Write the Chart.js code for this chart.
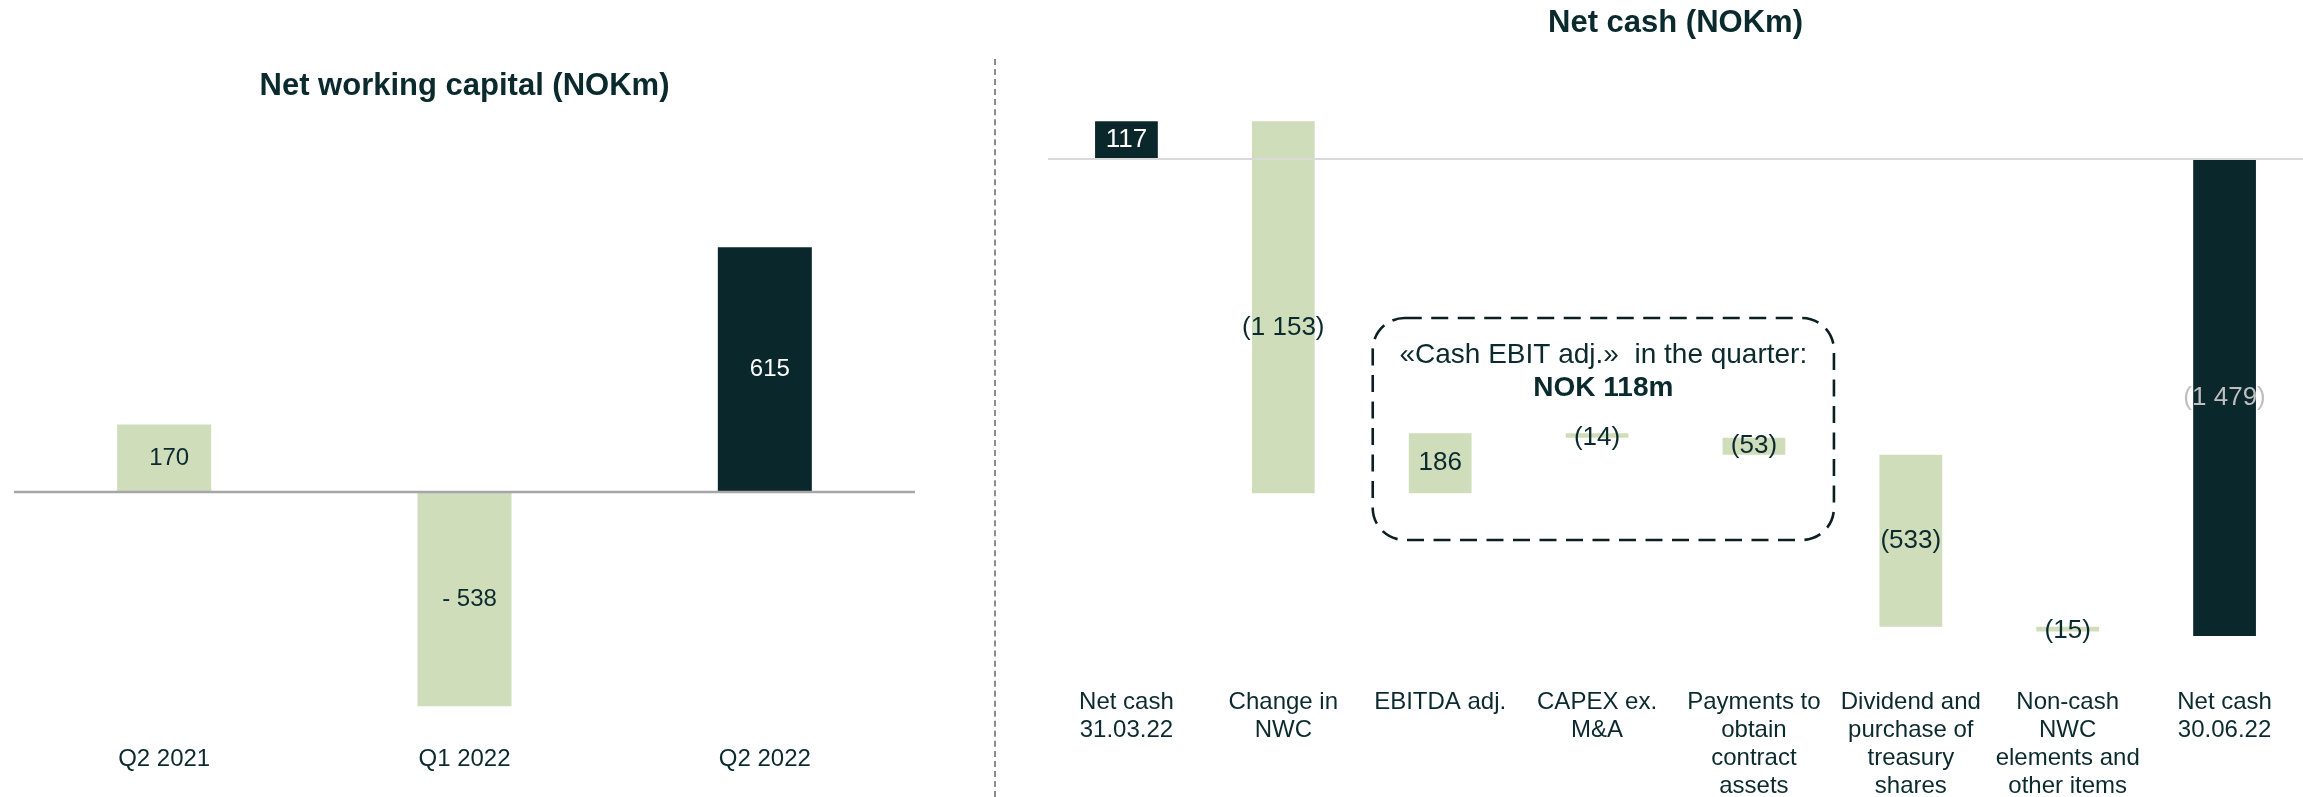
<!DOCTYPE html>
<html>
<head>
<meta charset="utf-8">
<script src="https://cdn.jsdelivr.net/npm/chart.js@4/dist/chart.umd.min.js"></script>
<style>
  html, body { margin: 0; padding: 0; background: #fff; }
  body { width: 2303px; height: 797px; position: relative; overflow: hidden; }
  canvas { position: absolute; top: 0; }
  #nwcChart { left: 0; }
  #cashChart { left: 1048px; }
  .divider { position: absolute; left: 994px; top: 59px; height: 738px; border-left: 2px dashed #8c8c8c; }
</style>
</head>
<body>
<canvas id="nwcChart" width="930" height="797"></canvas>
<div class="divider"></div>
<canvas id="cashChart" width="1255" height="797"></canvas>
<script>
// left chart: net working capital
const nwcQuarters = ['Q2 2021', 'Q1 2022', 'Q2 2022'];
const nwcValues = [170, -538, 615];
const nwcLabels = ['170', '- 538', '615'];

// right chart: net cash bridge
const cashSteps = [
    ['Net cash', '31.03.22'],
    ['Change in', 'NWC'],
    ['EBITDA adj.'],
    ['CAPEX ex.', 'M&A'],
    ['Payments to', 'obtain', 'contract', 'assets'],
    ['Dividend and', 'purchase of', 'treasury', 'shares'],
    ['Non-cash', 'NWC', 'elements and', 'other items'],
    ['Net cash', '30.06.22']
];
const cashValues = [117, -1153, 186, -14, -53, -533, -15, -1479];
const cashLabels = ['117', '(1 153)', '186', '(14)', '(53)', '(533)', '(15)', '(1 479)'];
const cashIsTotal = [true, false, false, false, false, false, false, true];
const noteLines = ['\u00abCash EBIT adj.\u00bb  in the quarter:', 'NOK 118m'];

const DARK = '#0a272c';
const GREEN = '#d0ddbb';
const TEXT = '#0b2a2e';
const FONT = '"Liberation Sans", Arial, sans-serif';

Chart.defaults.font.family = FONT;
Chart.defaults.color = TEXT;

// floating ranges for the bridge
let running = 0;
const cashRanges = cashValues.map((v, i) => {
    if (cashIsTotal[i]) {
        running = v;
        return [0, v];
    }
    const r = [running, running + v];
    running += v;
    return r;
});

const zeroLine = {
    id: 'zeroLine',
    afterDatasetsDraw(chart, args, opts) {
        const { ctx, chartArea, scales } = chart;
        const y = scales.y.getPixelForValue(0);
        ctx.save();
        ctx.strokeStyle = opts.color;
        ctx.lineWidth = opts.width;
        ctx.beginPath();
        ctx.moveTo(chartArea.left, y);
        ctx.lineTo(chartArea.right, y);
        ctx.stroke();
        ctx.restore();
    }
};

const barLabels = {
    id: 'barLabels',
    afterDraw(chart, args, opts) {
        const { ctx } = chart;
        const meta = chart.getDatasetMeta(0);
        ctx.save();
        ctx.font = opts.size + 'px ' + FONT;
        ctx.textAlign = 'center';
        ctx.textBaseline = 'middle';
        meta.data.forEach((bar, i) => {
            const dy = opts.dy ? opts.dy[i] : 0;
            ctx.fillStyle = opts.colors[i];
            ctx.fillText(opts.texts[i], bar.x + (opts.dx || 0), (bar.y + bar.base) / 2 + dy);
        });
        ctx.restore();
    }
};

const noteBox = {
    id: 'noteBox',
    afterDraw(chart) {
        const { ctx, scales } = chart;
        const left = scales.x.getPixelForValue(1.57);
        const right = scales.x.getPixelForValue(4.51);
        const top = scales.y.getPixelForValue(-493);
        const bottom = scales.y.getPixelForValue(-1181);
        ctx.save();
        ctx.strokeStyle = '#0b1f22';
        ctx.lineWidth = 2.6;
        ctx.setLineDash([17, 9.5]);
        ctx.beginPath();
        ctx.roundRect(left, top, right - left, bottom - top, 32);
        ctx.stroke();
        ctx.setLineDash([]);
        ctx.fillStyle = TEXT;
        ctx.textAlign = 'center';
        ctx.textBaseline = 'middle';
        const cx = (left + right) / 2;
        ctx.font = '28px ' + FONT;
        ctx.fillText(noteLines[0], cx, top + 37);
        ctx.font = 'bold 28px ' + FONT;
        ctx.fillText(noteLines[1], cx, top + 70);
        ctx.restore();
    }
};

new Chart(document.getElementById('nwcChart'), {
    type: 'bar',
    data: {
        labels: nwcQuarters,
        datasets: [{
            data: nwcValues,
            backgroundColor: [GREEN, GREEN, DARK],
            categoryPercentage: 1,
            barPercentage: 0.313
        }]
    },
    options: {
        responsive: false,
        animation: false,
        devicePixelRatio: 1,
        layout: { padding: { left: 14, right: 15, top: 0, bottom: 0 } },
        plugins: {
            legend: { display: false },
            tooltip: { enabled: false },
            title: {
                display: true,
                text: 'Net working capital (NOKm)',
                color: TEXT,
                font: { size: 31, weight: 'bold', lineHeight: 1.2 },
                padding: { top: 68, bottom: 45 }
            },
            zeroLine: { color: '#a6a6a6', width: 2.5 },
            barLabels: { texts: nwcLabels, colors: [TEXT, TEXT, '#ffffff'], dx: 5, size: 24 }
        },
        scales: {
            x: {
                grid: { display: false, drawTicks: false },
                border: { display: false },
                ticks: { font: { size: 24, lineHeight: 1.155 }, color: TEXT, padding: 10, maxRotation: 0, autoSkip: false },
                afterFit(axis) { axis.height = 61; }
            },
            y: { display: false, min: -613, max: 859 }
        }
    },
    plugins: [zeroLine, barLabels]
});

new Chart(document.getElementById('cashChart'), {
    type: 'bar',
    data: {
        labels: cashSteps,
        datasets: [{
            data: cashRanges,
            backgroundColor: cashIsTotal.map(t => t ? DARK : GREEN),
            categoryPercentage: 1,
            barPercentage: 0.40
        }]
    },
    options: {
        responsive: false,
        animation: false,
        devicePixelRatio: 1,
        layout: { padding: 0 },
        plugins: {
            legend: { display: false },
            tooltip: { enabled: false },
            title: {
                display: true,
                text: 'Net cash (NOKm)',
                color: TEXT,
                font: { size: 31, weight: 'bold', lineHeight: 1.2 },
                padding: { top: 5, bottom: 38 }
            },
            zeroLine: { color: '#d9d9d9', width: 2 },
            barLabels: {
                texts: cashLabels,
                colors: ['#ffffff', TEXT, TEXT, TEXT, TEXT, TEXT, TEXT, '#bfbfbf'],
                dy: [0, 21, 0, 2, 0, 0, 2, 0],
                size: 26
            }
        },
        scales: {
            x: {
                grid: { display: false, drawTicks: false },
                border: { display: false },
                ticks: { font: { size: 24, lineHeight: 1.155 }, color: TEXT, padding: 10, maxRotation: 0, minRotation: 0, autoSkip: false },
                afterFit(axis) { axis.height = 118; }
            },
            y: { display: false, min: -1612, max: 244 }
        }
    },
    plugins: [zeroLine, barLabels, noteBox]
});
</script>
</body>
</html>
